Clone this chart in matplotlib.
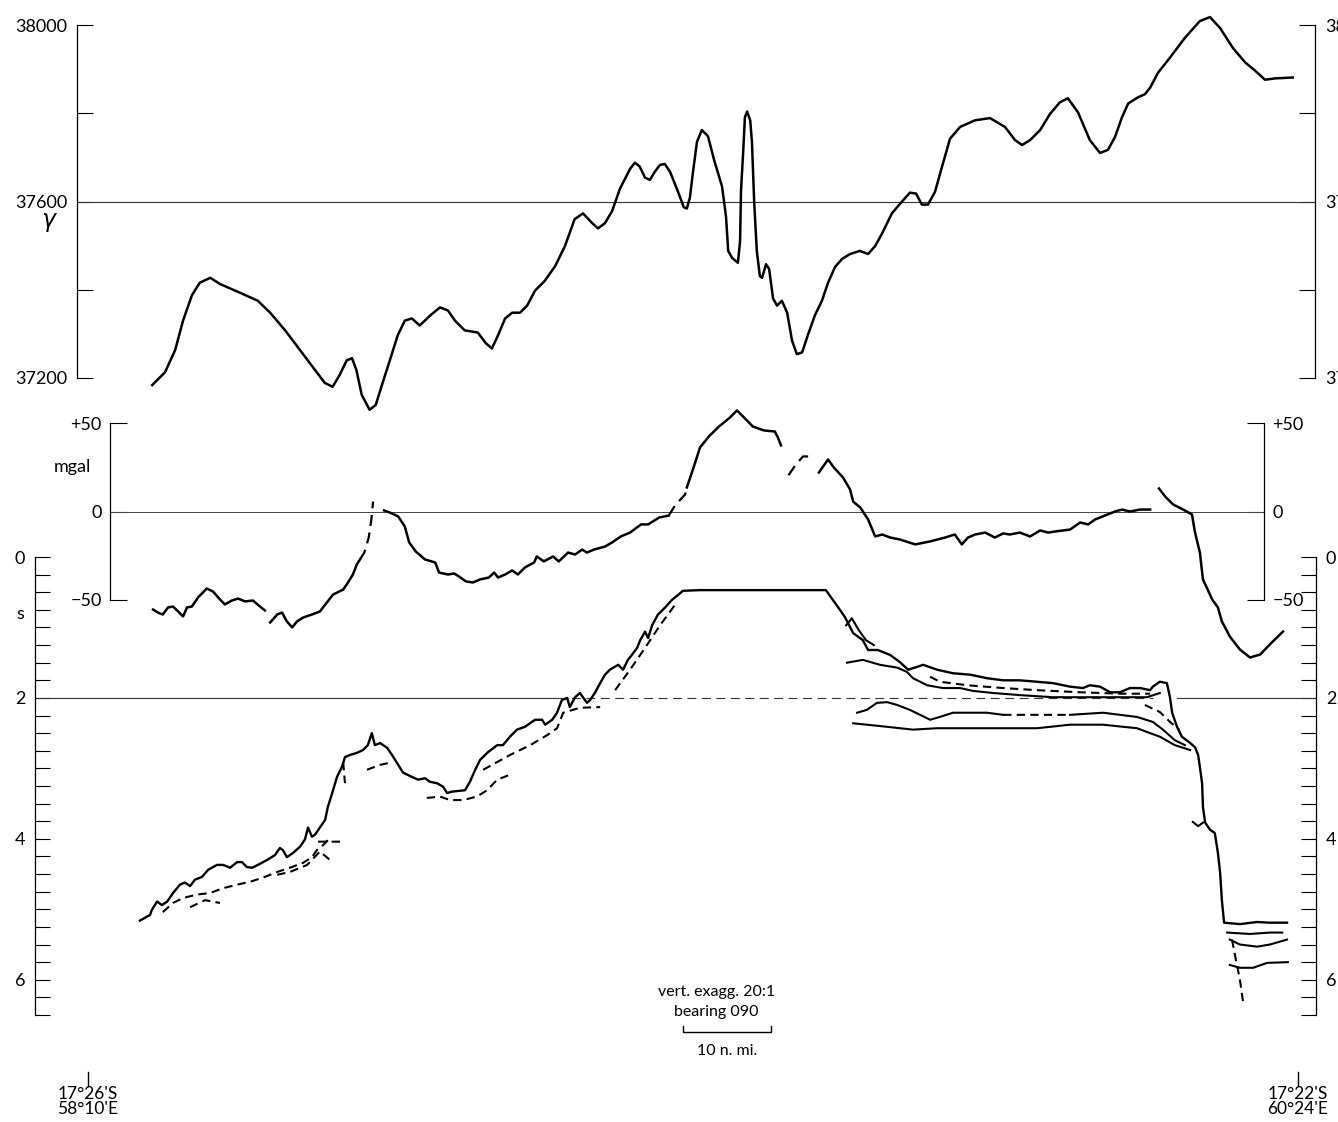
import numpy as np
import matplotlib
matplotlib.use("Agg")
import matplotlib.pyplot as plt

plt.rcParams['font.family'] = ['Lato', 'DejaVu Sans']

nan = np.nan

# distance along track (n. mi.) from 17°26'S 58°10'E, total field (gamma)
mag_dist = [7.3, 8.75, 9.9, 10.8, 11.8, 12.7, 13.9, 15.0, 17.3, 19.3,
            20.7, 22.4, 24.1, 25.8, 26.9, 27.8, 28.6, 29.4, 30.0, 30.5,
            31.1, 32.0, 32.7, 33.4, 34.3, 35.2, 36.0, 36.8, 37.7, 38.9,
            40.0, 40.9, 41.7, 42.8, 44.3, 45.2, 45.9, 46.6, 47.4, 48.2,
            49.1, 49.9, 50.8, 51.9, 53.1, 54.2, 55.3, 56.25, 57.3, 57.95,
            58.75, 59.55, 60.45, 61.6, 62.15, 62.7, 63.3, 63.85, 64.4, 65.0,
            65.55, 66.15, 67.05, 67.7, 68.05, 68.4, 68.75, 69.2, 69.75, 70.45,
            71.15, 72.05, 72.5, 72.75, 73.2, 73.85, 74.1, 74.2, 74.45, 74.65,
            74.9, 75.25, 75.45, 75.7, 76.0, 76.35, 76.6, 77.05, 77.4, 77.85,
            78.3, 78.85, 79.45, 80.0, 80.55, 81.15, 81.8, 82.6, 83.4, 84.1,
            84.9, 85.7, 86.6, 87.7, 88.65, 89.45, 90.25, 91.35, 92.5, 93.4,
            94.1, 94.75, 95.45, 96.25, 97.05, 97.95, 99.1, 100.8, 102.5, 104.2,
            105.35, 106.15, 107.05, 108.2, 109.3, 110.45, 111.35, 112.5, 113.85, 115.0,
            115.9, 116.7, 117.5, 118.2, 119.3, 120.1, 120.7, 121.6, 122.95, 124.65,
            126.35, 127.5, 128.65, 130.1, 131.5, 132.6, 133.75, 134.9, 136.9]
mag_gamma = [37184, 37213, 37263, 37330, 37387, 37416, 37427, 37413, 37393, 37375,
             37348, 37308, 37263, 37218, 37189, 37180, 37207, 37240, 37245, 37218,
             37162, 37128, 37139, 37184, 37240, 37297, 37330, 37335, 37319, 37342,
             37360, 37353, 37330, 37308, 37303, 37279, 37267, 37297, 37335, 37348,
             37348, 37364, 37398, 37420, 37454, 37499, 37560, 37573, 37551, 37539,
             37551, 37578, 37629, 37674, 37688, 37679, 37654, 37649, 37667, 37683,
             37685, 37667, 37622, 37587, 37584, 37609, 37667, 37735, 37762, 37748,
             37694, 37634, 37566, 37488, 37472, 37461, 37510, 37622, 37712, 37791,
             37804, 37784, 37735, 37600, 37488, 37431, 37427, 37458, 37447, 37380,
             37364, 37375, 37348, 37285, 37254, 37258, 37297, 37342, 37375, 37416,
             37452, 37470, 37481, 37488, 37481, 37499, 37528, 37573, 37600, 37620,
             37618, 37593, 37593, 37622, 37679, 37742, 37769, 37784, 37789, 37769,
             37739, 37728, 37739, 37762, 37798, 37825, 37834, 37802, 37739, 37710,
             37717, 37746, 37791, 37822, 37836, 37843, 37858, 37892, 37926, 37971,
             38009, 38018, 37993, 37948, 37915, 37897, 37876, 37879, 37881]

# free-air gravity (mgal), gaps as nan
grav_dist = [7.4, 7.95, 8.5, 9.1, 9.65, 10.25, 10.8, 11.25, 11.8, 12.5,
             13.5, 14.2, 15.0, 15.55, 16.35, 17.05, 17.85, 18.75, 19.55, 20.1, nan,
             20.7, 21.5, 22.05, 22.6, 23.2, 23.75, 24.45, 25.45, 26.35, 27.15,
             27.85, 29.0, 29.55, 30.1, 30.55, 30.9, nan,
             33.65, 34.55, 35.25, 36.0, 36.5, 37.25, 38.3, 39.45, 39.9, 40.9,
             41.6, 42.15, 42.95, 43.75, 44.55, 45.55, 46.15, 46.6, 47.4, 48.2,
             48.85, 49.65, 50.7, 51.0, 51.8, 52.85, 53.5, 54.55, 55.35, 56.15,
             56.7, 57.5, 58.75, 59.55, 60.55, 61.6, 62.85, 63.65, 64.9, 66.0, nan,
             68.05, 68.85, 69.55, 70.55, 71.7, 72.95, 73.75, 74.55, 75.55, 76.8,
             78.05, 78.4, 78.75, nan,
             83.05, 84.1, 84.75, 85.8, 86.6, 86.95, 87.75, 88.65, 89.45, 90.25,
             91.15, 92.25, 94.0, 95.7, 97.4, 98.5, 99.3, 100.0, 100.8, 101.95,
             103.05, 104.0, 104.75, 105.9, 107.05, 108.2, 109.1, 109.9, 111.6, 112.75,
             113.65, 114.45, 115.55, 116.7, 117.5, 118.4, 119.55, 120.7, nan,
             121.7, 122.4, 123.3, 124.45, 125.45, 125.8, 126.35, 126.7, 127.75, 128.4,
             128.85, 129.75, 130.9, 132.05, 133.2, 134.3, 135.8]
grav_mgal = [-55.4, -57.1, -58.2, -54.2, -53.7, -56.5, -59.3, -54.2, -53.7, -48.6,
             -43.5, -45.2, -49.7, -52.5, -50.3, -49.2, -50.8, -50.3, -53.7, -55.9, nan,
             -62.7, -58.2, -57.1, -62.1, -65.5, -62.1, -59.9, -58.2, -56.5, -51.4,
             -46.9, -44.1, -40.1, -35.6, -29.9, -27.1, nan,
             0.6, -1.1, -2.8, -8.5, -17.5, -22.6, -27.1, -28.8, -34.5, -35.6,
             -35.0, -36.7, -39.5, -40.1, -38.4, -37.3, -34.5, -37.3, -35.6, -33.3,
             -35.6, -31.6, -28.8, -25.4, -28.2, -25.4, -28.2, -23.2, -24.3, -21.5,
             -23.2, -21.5, -19.8, -17.5, -14.1, -11.9, -7.3, -7.3, -3.4, -2.3, nan,
             13.6, 25.4, 36.2, 42.4, 48.0, 53.1, 57.1, 53.1, 48.0, 45.8,
             45.2, 41.8, 37.3, nan,
             22.0, 29.4, 24.9, 19.2, 12.4, 5.6, 2.3, -4.5, -14.1, -13.0,
             -14.7, -15.8, -18.6, -16.9, -14.7, -13.0, -18.6, -14.7, -13.0, -11.9,
             -14.7, -12.4, -13.0, -11.9, -14.1, -10.7, -11.9, -11.3, -10.2, -6.2,
             -7.3, -4.5, -2.3, 0.0, 1.1, 0.0, 1.1, 1.1, nan,
             13.0, 8.5, 4.0, 1.1, -1.7, -11.9, -23.2, -38.4, -49.7, -54.2,
             -62.1, -70.6, -78.0, -82.5, -80.8, -75.1, -67.8]
grav_dash_dist = [30.9, 31.4, 31.9, 32.2, 32.4, nan, 66.0, 66.7, 67.85, 68.05, nan,
                  79.6, 80.45, 81.25, 82.05]
grav_dash_mgal = [-27.1, -23.2, -14.7, -4.5, 5.6, nan, -2.3, 3.4, 9.6, 13.6, nan,
                  20.5, 26.6, 31.1, 31.1]

# seismic reflection: sea floor, two-way time (s)
sea_dist = [5.9, 7.05, 7.25, 7.85, 8.4, 9.0, 9.65, 10.45, 11.0, 11.6,
            12.15, 12.95, 13.65, 14.65, 15.35, 16.15, 16.95, 17.5, 18.05, 18.65,
            19.3, 20.35, 21.25, 21.8, 22.15, 22.6, 23.3, 24.1, 24.65, 25.0,
            25.45, 25.8, 26.35, 26.95, 27.25, 27.75, 28.3, 28.85, 29.2, 29.75,
            30.55, 31.25, 31.8, 32.25, 32.6, 33.2, 34.0, 34.55, 35.1, 35.8,
            36.8, 37.5, 38.3, 38.85, 39.65, 40.35, 40.8, 41.35, 42.85, 43.4,
            44.0, 44.55, 45.45, 46.5, 47.15, 47.95, 48.75, 49.65, 50.8, 51.6,
            51.95, 52.75, 53.3, 53.85, 54.45, 54.75, 55.35, 55.9, 56.7, 57.05,
            57.6, 58.2, 58.75, 59.3, 60.25, 60.8, 61.35, 61.8, 62.4, 62.75,
            63.3, 63.65, 64.1, 64.75, 65.55, 66.35, 67.05, 67.6, 69.55, 75.25,
            80.9, 83.85, 84.65, 85.45, 86.0, 86.95, 88.05, 88.65, 89.75, 91.15,
            92.25, 93.2, 94.2, 94.9, 96.5, 98.3, 100.25, 102.15, 104.0, 105.9,
            107.85, 109.65, 111.6, 113.05, 113.85, 115.0, 116.15, 117.25, 118.4, 119.55,
            120.7, 121.0, 121.8, 122.6, 122.95, 123.2, 123.75, 124.3, 125.25, 125.8,
            126.15, 126.35, 126.6, 126.7, 126.95, 127.5, 128.05, 128.4, 128.65, 128.85,
            129.1, 130.9, 132.85, 134.3, 136.25]
sea_s = [5.16, 5.08, 5.01, 4.89, 4.94, 4.89, 4.77, 4.65, 4.62, 4.67,
         4.58, 4.54, 4.44, 4.37, 4.37, 4.41, 4.33, 4.33, 4.40, 4.41,
         4.37, 4.30, 4.23, 4.13, 4.16, 4.26, 4.20, 4.11, 4.01, 3.84,
         3.97, 3.94, 3.84, 3.73, 3.55, 3.35, 3.12, 2.98, 2.84, 2.81,
         2.78, 2.74, 2.67, 2.50, 2.67, 2.64, 2.71, 2.81, 2.92, 3.06,
         3.12, 3.16, 3.14, 3.19, 3.21, 3.26, 3.35, 3.33, 3.31, 3.19,
         3.02, 2.88, 2.77, 2.67, 2.67, 2.55, 2.45, 2.41, 2.31, 2.31,
         2.38, 2.31, 2.21, 2.03, 2.0, 2.13, 1.99, 1.93, 2.07, 2.03,
         1.93, 1.79, 1.67, 1.60, 1.53, 1.60, 1.46, 1.39, 1.29, 1.18,
         1.06, 1.15, 0.97, 0.82, 0.72, 0.61, 0.54, 0.48, 0.47, 0.47,
         0.47, 0.47, 0.61, 0.75, 0.85, 1.08, 1.18, 1.32, 1.32, 1.39,
         1.49, 1.60, 1.56, 1.53, 1.60, 1.65, 1.67, 1.72, 1.75, 1.75,
         1.77, 1.79, 1.84, 1.86, 1.82, 1.84, 1.92, 1.92, 1.86, 1.86,
         1.89, 1.84, 1.77, 1.79, 1.99, 2.21, 2.41, 2.55, 2.64, 2.70,
         2.81, 2.98, 3.21, 3.55, 3.77, 3.87, 3.92, 4.20, 4.48, 4.87,
         5.19, 5.21, 5.18, 5.19, 5.19]

# sub-bottom reflectors, solid traces
refl_dist = [86.25, 88.05, 90.0, 91.95, 93.05, 93.75, 95.35, 97.15, 99.1, 100.55,
             102.85, 105.9, 109.65, 113.5, 117.25, 120.35, 121.8, nan,
             87.4, 88.5, 89.65, 90.8, 91.95, 93.4, 94.55, 95.7, 96.8, 98.3,
             100.25, 102.15, 104.0, nan,
             111.6, 115.35, 119.2, 121.0, 122.15, 123.5, 124.65, nan,
             86.95, 88.5, 90.8, 93.75, 96.5, 100.25, 104.0, 107.85, 111.6, 115.35,
             119.2, 120.7, 121.8, 123.5, 125.25, nan,
             129.45, 132.05, 134.3, 135.7, nan,
             129.75, 130.9, 132.85, 134.3, 136.25, nan,
             129.75, 130.9, 132.4, 134.0, 136.35, nan,
             86.15, 86.8, 87.6, 88.4, 89.3, nan,
             125.55, 126.15, 126.7]
refl_s = [1.50, 1.46, 1.53, 1.57, 1.63, 1.72, 1.82, 1.86, 1.86, 1.90,
          1.93, 1.96, 1.99, 1.99, 1.99, 1.99, 1.93, nan,
          2.21, 2.17, 2.07, 2.06, 2.10, 2.17, 2.24, 2.31, 2.27, 2.21,
          2.21, 2.21, 2.24, nan,
          2.24, 2.21, 2.27, 2.34, 2.45, 2.60, 2.67, nan,
          2.36, 2.38, 2.41, 2.45, 2.43, 2.43, 2.43, 2.43, 2.38, 2.38,
          2.43, 2.50, 2.55, 2.67, 2.74, nan,
          5.33, 5.35, 5.33, 5.33, nan,
          5.43, 5.50, 5.53, 5.50, 5.43, nan,
          5.79, 5.83, 5.83, 5.76, 5.75, nan,
          0.97, 0.87, 1.04, 1.18, 1.25, nan,
          3.76, 3.82, 3.77]

# sub-bottom reflectors, broken traces
refl_dash_dist = [8.5, 9.65, 10.8, 12.4, 13.85, 15.35, 16.95, 18.4, 19.9, 21.5,
                  22.95, 24.45, 25.45, 26.0, 26.7, 27.5, nan,
                  11.6, 13.3, 15.0, nan,
                  21.5, 22.95, 24.9, 26.35, 27.5, nan,
                  26.15, 29.2, nan,
                  29.0, 29.2, nan,
                  31.7, 33.2, 34.65, nan,
                  38.5, 40.0, 41.15, 42.6, 44.2, 45.35, 46.5, 47.95, nan,
                  44.9, 46.5, 47.95, 50.25, 52.15, 53.3, 54.0, 55.9, 58.2, nan,
                  59.9, 61.6, 63.3, 65.0, 66.7, nan,
                  95.7, 96.8, 99.9, 104.0, 107.85, 112.75, 117.25, 120.7, nan,
                  104.0, 107.85, 111.6, nan,
                  120.1, 121.8, 122.95, 124.0, nan,
                  130.0, 130.45, 130.9, 131.25]
refl_dash_s = [5.04, 4.91, 4.84, 4.79, 4.77, 4.70, 4.65, 4.61, 4.55, 4.47,
               4.41, 4.34, 4.26, 4.16, 4.09, 3.99, nan,
               4.97, 4.87, 4.91, nan,
               4.51, 4.47, 4.37, 4.18, 4.30, nan,
               4.04, 4.04, nan,
               2.91, 3.21, nan,
               3.02, 2.95, 2.91, nan,
               3.42, 3.40, 3.45, 3.45, 3.40, 3.31, 3.16, 3.09, nan,
               3.02, 2.91, 2.81, 2.67, 2.53, 2.43, 2.21, 2.14, 2.13, nan,
               1.89, 1.60, 1.29, 0.97, 0.68, nan,
               1.70, 1.77, 1.82, 1.86, 1.89, 1.92, 1.94, 1.94, nan,
               2.24, 2.24, 2.24, nan,
               2.10, 2.20, 2.34, 2.45, nan,
               5.43, 5.72, 6.0, 6.31]

# 2 s reference line: solid / broken / solid
ref2_breaks = [53.3, 121.0, 123.7]

# ---------------------------------------------------------------------------
W, H = 1338, 1122
X0_PX = 88          # pixel of the left position mark (distance 0)
PX_PER_NMI = 8.8    # scale bar: 10 n. mi.

fig = plt.figure(figsize=(W / 100, H / 100), dpi=100)
fig.patch.set_facecolor('white')


def nmi(px):
    return (px - X0_PX) / PX_PER_NMI


def panel(x0, x1, ytop, ybot, ticklen, pad):
    ax = fig.add_axes([x0 / W, 1 - ybot / H, (x1 - x0) / W, (ybot - ytop) / H])
    ax.set_xlim(nmi(x0), nmi(x1))
    ax.patch.set_visible(False)
    ax.spines['top'].set_visible(False)
    ax.spines['bottom'].set_visible(False)
    ax.spines['left'].set_linewidth(0.9)
    ax.spines['right'].set_linewidth(0.9)
    ax.tick_params(axis='x', bottom=False, labelbottom=False)
    ax.tick_params(axis='y', direction='in', left=True, right=True,
                   labelleft=True, labelright=True, length=ticklen,
                   width=0.8, pad=pad, labelsize=13)
    return ax


# magnetics
ax_m = panel(77, 1315, 25, 378, 11.5, 7)
ax_m.set_ylim(37200, 38000)
ax_m.set_yticks([37200, 37400, 37600, 37800, 38000])
ax_m.set_yticklabels(['37200', '', '37600', '', '38000'])
ax_m.axhline(37600, color='#333333', lw=0.8)
ax_m.plot(mag_dist, mag_gamma, color='black', lw=1.8, clip_on=False)

# gravity
ax_g = panel(110, 1264, 423, 600, 12, 6)
ax_g.set_ylim(-50, 50)
ax_g.set_yticks([-50, 0, 50])
ax_g.set_yticklabels(['\u221250', '0', '+50'])
ax_g.axhline(0, color='#444444', lw=0.7)
ax_g.plot(grav_dist, grav_mgal, color='black', lw=1.8, clip_on=False)
ax_g.plot(grav_dash_dist, grav_dash_mgal, color='black', lw=1.6,
          dashes=(5, 3), clip_on=False)

# seismic reflection
ax_s = panel(35, 1316, 557, 1015, 11, 7)
ax_s.set_ylim(6.5, 0)
ax_s.set_yticks(np.arange(0, 6.51, 0.25))
ax_s.set_yticklabels([('%d' % t if t % 2 == 0 else '') for t in np.arange(0, 6.51, 0.25)])
xl = ax_s.get_xlim()
ax_s.plot([xl[0], ref2_breaks[0]], [2, 2], color='#333333', lw=0.8)
ax_s.plot([ref2_breaks[0], ref2_breaks[1]], [2, 2], color='#333333', lw=0.8, dashes=(8, 5))
ax_s.plot([ref2_breaks[2], xl[1]], [2, 2], color='#333333', lw=0.8)
ax_s.plot(sea_dist, sea_s, color='black', lw=1.7)
ax_s.plot(refl_dist, refl_s, color='black', lw=1.5)
ax_s.plot(refl_dash_dist, refl_dash_s, color='black', lw=1.5, dashes=(4, 2.5))

# annotations on a full-figure layer
ann = fig.add_axes([0, 0, 1, 1])
ann.set_xlim(nmi(0), nmi(W))
ann.set_ylim(H, 0)
ann.axis('off')
ann.patch.set_visible(False)

ann.text(nmi(50), 222, r'$\gamma$', fontsize=17, ha='center', va='center')
ann.text(nmi(72), 467, 'mgal', fontsize=13, ha='center', va='center')
ann.text(nmi(20), 614, 's', fontsize=13, ha='center', va='center')

ann.text(nmi(717), 992, 'vert. exagg. 20:1', fontsize=11.5, ha='center', va='center')
ann.text(nmi(716), 1012, 'bearing 090', fontsize=11.5, ha='center', va='center')
bar0 = nmi(683)
ann.plot([bar0, bar0, bar0 + 10, bar0 + 10], [1026, 1032, 1032, 1026], color='black', lw=1.0)
ann.text(bar0 + 5, 1051, '10 n. mi.', fontsize=11.5, ha='center', va='center')

for d, lat, lon in [(0.0, "17°26'S", "58°10'E"), (137.5, "17°22'S", "60°24'E")]:
    ann.plot([d, d], [1072, 1086], color='black', lw=1.0)
    ann.text(d, 1094, lat, fontsize=12.5, ha='center', va='center')
    ann.text(d, 1109, lon, fontsize=12.5, ha='center', va='center')

fig.savefig('out.png', dpi=100)
